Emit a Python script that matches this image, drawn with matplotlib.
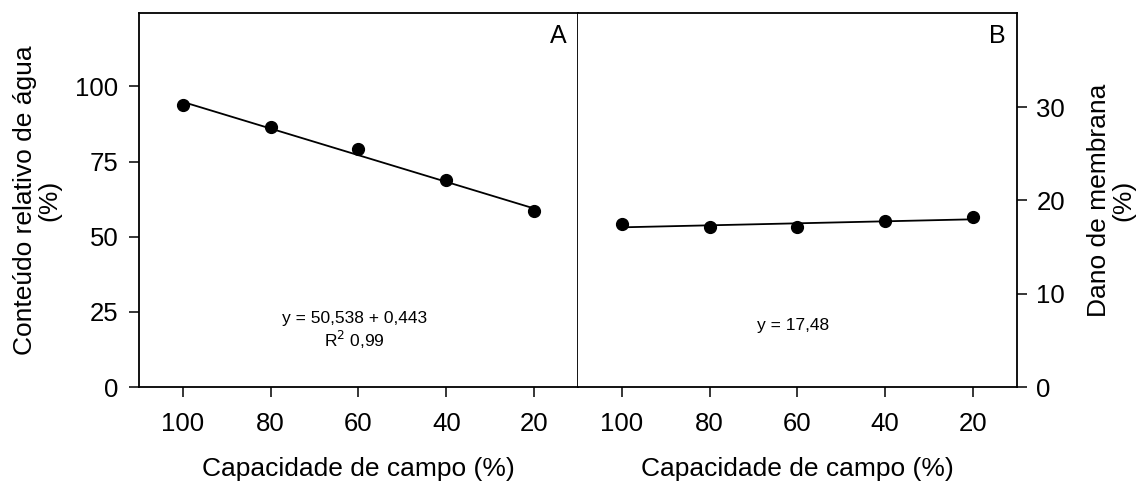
import numpy as np
import matplotlib
matplotlib.use("Agg")
import matplotlib.pyplot as plt

plt.rcParams['font.family'] = ['Liberation Sans', 'DejaVu Sans']

# capacidade de campo (%)
capacidade = [100, 80, 60, 40, 20]
# painel A - conteudo relativo de agua (%)
cra = [93.9, 86.4, 79.3, 68.8, 58.4]
cra_b0, cra_b1 = 50.538, 0.443
# painel B - dano de membrana (%)
dano = [17.5, 17.1, 17.1, 17.75, 18.25]

xticks = [100, 80, 60, 40, 20]
yticks_a = [0, 25, 50, 75, 100]
yticks_b = [0, 10, 20, 30]

fig = plt.figure(figsize=(11.47, 4.86), dpi=100, facecolor='w')
axA = fig.add_axes([0.1212, 0.2037, 0.3827, 0.770])
axB = fig.add_axes([0.5039, 0.2037, 0.3827, 0.770])

xs = np.array([100, 20])

# painel A
axA.plot(xs, cra_b0 + cra_b1 * xs, color='black', lw=1.3)
axA.plot(capacidade, cra, 'o', color='black', ms=8.5)
axA.set_xlim(110, 10)
axA.set_ylim(0, 124.5)
axA.set_xticks(xticks)
axA.set_yticks(yticks_a)
axA.set_ylabel('Conteúdo relativo de água\n(%)', fontsize=19, labelpad=10,
               linespacing=1.0)
axA.set_xlabel('Capacidade de campo (%)', fontsize=19, labelpad=15)
axA.text(0.975, 0.97, 'A', transform=axA.transAxes, ha='right', va='top',
         fontsize=18)
axA.text(0.49, 0.15, 'y = 50,538 + 0,443\nR$^2$ 0,99', transform=axA.transAxes,
         ha='center', va='center', fontsize=12.5, linespacing=1.2)

# painel B
p = np.polyfit(capacidade, dano, 1)
axB.plot(xs, np.polyval(p, xs), color='black', lw=1.3)
axB.plot(capacidade, dano, 'o', color='black', ms=8.5)
axB.set_xlim(110, 10)
axB.set_ylim(0, 40.1)
axB.set_xticks(xticks)
axB.set_yticks(yticks_b)
axB.yaxis.tick_right()
axB.yaxis.set_label_position('right')
axB.set_ylabel('Dano de membrana\n(%)', fontsize=19, labelpad=16,
               linespacing=1.0)
axB.set_xlabel('Capacidade de campo (%)', fontsize=19, labelpad=15)
axB.spines['left'].set_visible(False)
axB.text(0.975, 0.97, 'B', transform=axB.transAxes, ha='right', va='top',
         fontsize=18)
axB.text(0.49, 0.165, 'y = 17,48', transform=axB.transAxes,
         ha='center', va='center', fontsize=12.5)

for ax in (axA, axB):
    for s in ax.spines.values():
        s.set_linewidth(1.3)
    ax.tick_params(axis='both', direction='out', length=7, width=1.1,
                   labelsize=18.5, pad=11)
axA.tick_params(axis='y', pad=8)
axB.tick_params(axis='y', pad=7)

fig.savefig('out.png', dpi=100)
